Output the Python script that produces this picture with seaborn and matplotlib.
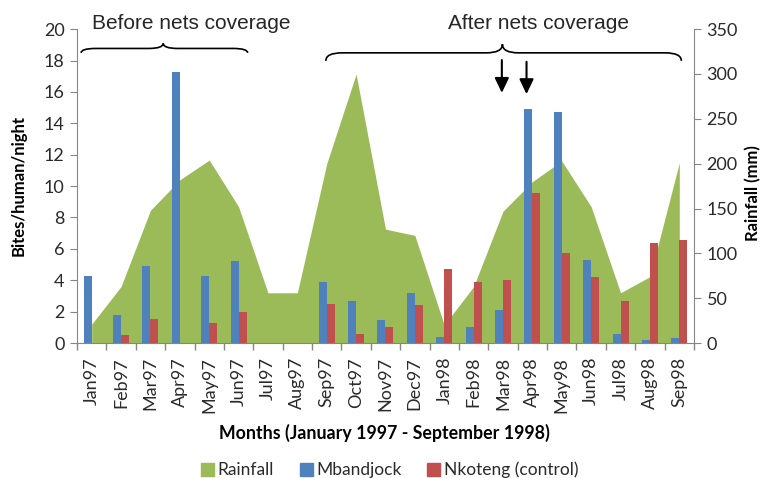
import matplotlib
matplotlib.use("Agg")
import matplotlib.pyplot as plt
from matplotlib.path import Path
from matplotlib.patches import PathPatch, Patch
import seaborn as sns
import pandas as pd
import numpy as np

months = ["Jan97", "Feb97", "Mar97", "Apr97", "May97", "Jun97", "Jul97", "Aug97",
          "Sep97", "Oct97", "Nov97", "Dec97", "Jan98", "Feb98", "Mar98", "Apr98",
          "May98", "Jun98", "Jul98", "Aug98", "Sep98"]
rainfall = [21, 63, 148, 182, 204, 152, 56, 56, 200, 300, 127, 120, 20, 63, 147, 180,
            203, 152, 56, 74, 201]
mbandjock = [4.3, 1.8, 4.9, 17.3, 4.3, 5.2, 0, 0, 3.9, 2.7, 1.45, 3.2, 0.4, 1.0, 2.1,
             14.9, 14.7, 5.3, 0.55, 0.2, 0.3]
nkoteng = [0, 0.5, 1.55, 0, 1.25, 1.95, 0, 0, 2.5, 0.6, 1.0, 2.45, 4.7, 3.9, 4.0,
           9.55, 5.75, 4.2, 2.65, 6.35, 6.55]
series_names = ["Mbandjock", "Nkoteng (control)"]

GREEN = "#9BBB59"
BLUE = "#4F81BD"
RED = "#C0504D"
GRAY = "#868686"
TXT = "#2a2a2a"

sns.set_style("ticks")
plt.rcParams["font.family"] = ["Lato", "DejaVu Sans"]

df = pd.DataFrame({
    "month": months * 2,
    "bites": mbandjock + nkoteng,
    "site": [series_names[0]] * len(months) + [series_names[1]] * len(months),
})

fig = plt.figure(figsize=(7.66, 4.78), dpi=100)
fig.subplots_adjust(left=0.1005, right=0.906, bottom=0.2824, top=0.939)
ax = fig.add_subplot(111)
ax2 = ax.twinx()
ax.set_zorder(ax2.get_zorder() + 1)
ax.patch.set_visible(False)

# rainfall area (right axis)
xpos = np.arange(len(months))
ax2.fill_between(xpos, rainfall, 0, color=GREEN, lw=0)

# bars (left axis)
sns.barplot(data=df, x="month", y="bites", hue="site", order=months,
            hue_order=series_names, palette=[BLUE, RED], width=0.544,
            saturation=1, ax=ax, legend=False, linewidth=0, edgecolor="none")

ax.set_xlim(-0.5, len(months) - 0.5)
ax2.set_xlim(-0.5, len(months) - 0.5)
ax.set_ylim(0, 20)
ax2.set_ylim(0, 350)
ax.set_yticks(np.arange(0, 21, 2))
ax2.set_yticks(np.arange(0, 351, 50))

ax.set_xlabel("")
ax.set_ylabel("")
ax2.set_ylabel("")

# spines
for a in (ax, ax2):
    a.spines["top"].set_visible(False)
ax.spines["right"].set_visible(False)
ax2.spines["left"].set_visible(False)
ax2.spines["bottom"].set_visible(False)
ax.spines["left"].set_color(GRAY)
ax.spines["bottom"].set_color(GRAY)
ax2.spines["right"].set_color(GRAY)

# ticks
ax.set_xticks(xpos)
ax.set_xticklabels(months, rotation=90)
ax.set_xticks(np.arange(-0.5, len(months), 1), minor=True)
ax.tick_params(axis="x", which="major", length=0, pad=10, labelsize=13, labelcolor=TXT)
ax.tick_params(axis="x", which="minor", length=5, color=GRAY, width=1)
ax.tick_params(axis="y", length=5, color=GRAY, labelsize=13, labelcolor=TXT, pad=4)
ax2.tick_params(axis="y", length=5, color=GRAY, labelsize=13, labelcolor=TXT, pad=4)

# axis titles
fig.text(18.5 / 766, 1 - 185 / 478, "Bites/human/night", rotation=90, ha="center",
         va="center", fontsize=12, fontweight="bold", color="black")
fig.text(753 / 766, 1 - 193 / 478, "Rainfall (mm)", rotation=90, ha="center",
         va="center", fontsize=12, fontweight="bold", color="black")
fig.text(384 / 766, 1 - 433 / 478, "Months (January 1997 - September 1998)",
         ha="center", va="center", fontsize=12.8, fontweight="bold", color="black")

# braces
def brace(a, x0, x1, xm, y_end, y_line, y_tip, rx):
    verts = [(x0, y_end), (x0, y_line), (x0 + rx, y_line),
             (xm - rx, y_line), (xm, y_line), (xm, y_tip),
             (xm, y_line), (xm + rx, y_line),
             (x1 - rx, y_line), (x1, y_line), (x1, y_end)]
    codes = [Path.MOVETO, Path.CURVE3, Path.CURVE3,
             Path.LINETO, Path.CURVE3, Path.CURVE3,
             Path.CURVE3, Path.CURVE3,
             Path.LINETO, Path.CURVE3, Path.CURVE3]
    p = PathPatch(Path(verts, codes), fill=False, ec="black", lw=1.2, clip_on=False)
    a.add_patch(p)

brace(ax, -0.36, 5.31, 2.435, 18.49, 18.77, 19.09, 0.5)
brace(ax, 7.97, 20.07, 13.98, 17.98, 18.49, 19.04, 0.55)

ax.text(3.4, 20.36, "Before nets coverage", ha="center", va="center",
        fontsize=15, family=["Liberation Sans", "DejaVu Sans"], clip_on=False)
ax.text(15.2, 20.38, "After nets coverage", ha="center", va="center",
        fontsize=15, family=["Liberation Sans", "DejaVu Sans"], clip_on=False)

# arrows
for xa, y0, y1 in [(13.96, 18.03, 15.94), (14.8, 17.92, 15.86)]:
    ax.annotate("", xy=(xa, y1), xytext=(xa, y0),
                arrowprops=dict(arrowstyle="-|>,head_width=0.43,head_length=0.9",
                                color="black", lw=1.5, shrinkA=0, shrinkB=0),
                annotation_clip=False)

# legend
handles = [Patch(color=GREEN, label="Rainfall"),
           Patch(color=BLUE, label="Mbandjock"),
           Patch(color=RED, label="Nkoteng (control)")]
fig.legend(handles=handles, loc="center", bbox_to_anchor=(389.5 / 766, 1 - 470 / 478),
           ncol=3, frameon=False, fontsize=12.5, handlelength=0.75, handleheight=0.75,
           handletextpad=0.2, columnspacing=1.5, labelcolor=TXT)

fig.savefig("out.png", dpi=100)
